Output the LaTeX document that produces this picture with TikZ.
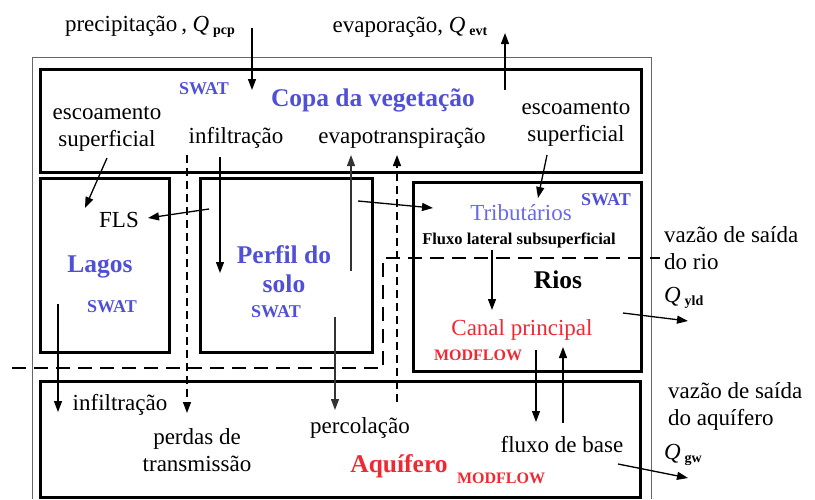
\documentclass[tikz,border=0pt]{standalone}
\usepackage{fontspec}
\setmainfont{Liberation Serif}
\usetikzlibrary{arrows.meta}
\definecolor{swatblue}{RGB}{80,80,215}
\definecolor{tribblue}{RGB}{105,105,235}
\definecolor{mfred}{RGB}{240,40,50}
\newcommand{\myQ}[1]{\textit{Q}\,\raisebox{-3pt}{\fontsize{14}{14}\selectfont\bfseries #1}}
\tikzset{
 big/.style={font=\fontsize{23}{27}\selectfont, inner sep=0pt, align=center},
 bigleft/.style={font=\fontsize{23}{27}\selectfont, inner sep=0pt, align=left, anchor=west},
 bigb/.style={font=\fontsize{25.5}{29}\selectfont\bfseries, inner sep=0pt, align=center},
 smallb/.style={font=\fontsize{16}{18}\selectfont\bfseries, inner sep=0pt},
 swat/.style={font=\fontsize{18}{20}\selectfont\bfseries, inner sep=0pt, text=swatblue},
 box/.style={line width=3pt},
 frame/.style={line width=0.9pt, black!60},
 flow/.style={line width=1.3pt, -{Triangle[length=11pt,width=8pt]}},
 thindash/.style={line width=1.3pt, dash pattern=on 8pt off 5pt},
 thickdash/.style={line width=2.8pt, dash pattern=on 14pt off 8pt},
}
\begin{document}
\begin{tikzpicture}[x=1pt,y=-1pt]
\useasboundingbox (0,0) rectangle (815,499);
% outer frame
\draw[frame] (32,499) -- (32,57) -- (651,57) -- (651,499);
% boxes
\draw[box] (40,69) rectangle (641,172);
\draw[box] (40,178) rectangle (169,352);
\draw[box] (200,178) rectangle (372,352);
\draw[box] (413,182) rectangle (641,371);
\draw[box] (40,381) rectangle (640,497);
% thick dashed boundary
\draw[thickdash] (12,368) -- (383,368) -- (383,258) -- (660,258);
% coordinates
\coordinate (p1) at (252,28);  \coordinate (p2) at (252,90);
\coordinate (e1) at (505,90);  \coordinate (e2) at (505,33);
\coordinate (sl1) at (107,158); \coordinate (sl2) at (85,208);
\coordinate (i1) at (220,157); \coordinate (i2) at (220,273);
\coordinate (f1) at (209,209); \coordinate (f2) at (148,218);
\coordinate (t1) at (351,271); \coordinate (t2) at (351,155);
\coordinate (td1) at (397,402); \coordinate (td2) at (397,155);
\coordinate (pd1) at (187,155); \coordinate (pd2) at (187,413);
\coordinate (r1) at (358,201); \coordinate (r2) at (433,208);
\coordinate (sr1) at (547,155); \coordinate (sr2) at (538,198);
\coordinate (fl1) at (492,250); \coordinate (fl2) at (492,310);
\coordinate (y1) at (623,313); \coordinate (y2) at (688,321);
\coordinate (c1) at (536,350); \coordinate (c2) at (536,422);
\coordinate (b1) at (563,423); \coordinate (b2) at (563,347);
\coordinate (g1) at (618,464); \coordinate (g2) at (688,478);
\coordinate (l1) at (58,304); \coordinate (l2) at (58,412);
\coordinate (pc1) at (335,317); \coordinate (pc2) at (335,410);
% arrows
\draw[flow] (p1) -- (p2);
\draw[flow] (e1) -- (e2);
\draw[flow] (sl1) -- (sl2);
\draw[flow] (i1) -- (i2);
\draw[flow] (f1) -- (f2);
\draw[flow, black!80] (t1) -- (t2);
\draw[flow, thindash] (td1) -- (td2);
\draw[flow, thindash] (pd1) -- (pd2);
\draw[flow] (r1) -- (r2);
\draw[flow] (sr1) -- (sr2);
\draw[flow] (fl1) -- (fl2);
\draw[flow] (y1) -- (y2);
\draw[flow] (c1) -- (c2);
\draw[flow] (b1) -- (b2);
\draw[flow] (g1) -- (g2);
\draw[flow] (l1) -- (l2);
\draw[flow, black!80] (pc1) -- (pc2);
% texts
\node[big] (tpcp) at (150,27) {precipitação\,, \myQ{pcp}};
\node[big] (tevt) at (410,27) {evaporação, \myQ{evt}};
\node[swat] (sw1) at (204,89) {SWAT};
\node[bigb, text=swatblue] (copa) at (373,100) {Copa da vegetação};
\node[big] (escl) at (107,129) {escoamento\\superficial};
\node[big] (inf1) at (236,138) {infiltração};
\node[big] (evp) at (402,138) {evapotranspiração};
\node[big] (escr) at (576,124) {escoamento\\superficial};
\node[big] (fls) at (119,220) {FLS};
\node[bigb, text=swatblue] (lagos) at (100,267) {Lagos};
\node[swat] (sw2) at (112,307) {SWAT};
\node[bigb, text=swatblue] (perfil) at (284,269) {Perfil do\\solo};
\node[swat] (sw3) at (276,312) {SWAT};
\node[big, text=tribblue] (trib) at (521,213) {Tributários};
\node[swat] (sw4) at (606,200) {SWAT};
\node[font=\fontsize{16.5}{18}\selectfont\bfseries, inner sep=0pt] (flx) at (519,240) {Fluxo lateral subsuperficial};
\node[bigb] (rios) at (558,280) {Rios};
\node[big, text=mfred] (canal) at (522,330) {Canal principal};
\node[smallb, text=mfred] (mf1) at (478,355) {MODFLOW};
\node[bigleft] (vr) at (664,248) {vazão de saída\\do rio};
\node[bigleft] (qy) at (664,298) {\myQ{yld}};
\node[bigleft] (va) at (668,406) {vazão de saída\\do aquífero};
\node[bigleft] (qg) at (664,455) {\myQ{gw}};
\node[big] (inf2) at (120,405) {infiltração};
\node[big] (perd) at (197,450) {perdas de\\transmissão};
\node[big] (perc) at (360,428) {percolação};
\node[big] (fb) at (562,445) {fluxo de base};
\node[bigb, text=mfred] (aq) at (399,466) {Aquífero};
\node[smallb, text=mfred] (mf2) at (501,478) {MODFLOW};
\end{tikzpicture}
\end{document}
